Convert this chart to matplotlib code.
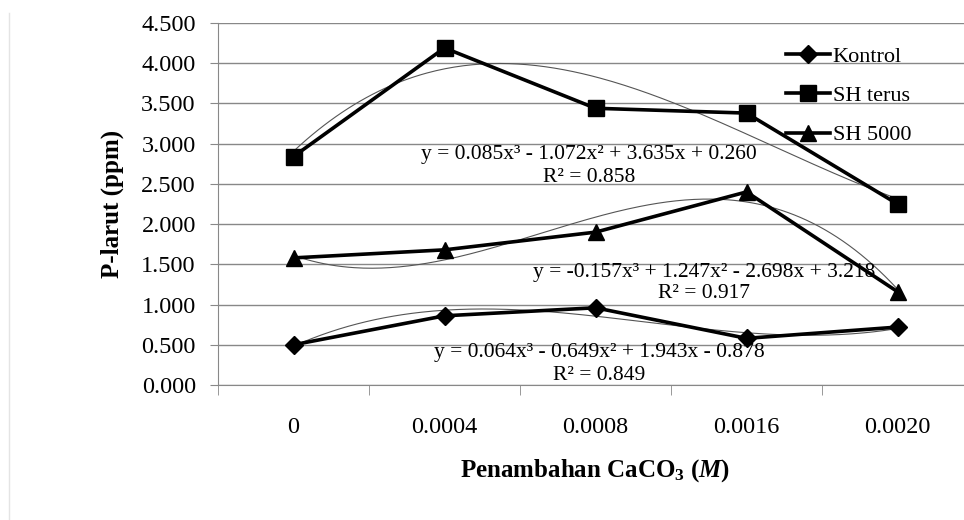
import numpy as np
import matplotlib
matplotlib.use("Agg")
import matplotlib.pyplot as plt
from matplotlib.lines import Line2D

plt.rcParams['font.family'] = ['Liberation Serif', 'DejaVu Serif']
plt.rcParams['mathtext.fontset'] = 'custom'
plt.rcParams['mathtext.rm'] = 'Liberation Serif'
plt.rcParams['mathtext.it'] = 'Liberation Serif:italic'
plt.rcParams['mathtext.bf'] = 'Liberation Serif:bold'
plt.rcParams['mathtext.bfit'] = 'Liberation Serif:italic:bold'

# data
categories = ['0', '0.0004', '0.0008', '0.0016', '0.0020']
kontrol = [0.50, 0.86, 0.96, 0.58, 0.72]
sh_terus = [2.84, 4.19, 3.44, 3.38, 2.25]
sh_5000 = [1.58, 1.68, 1.90, 2.40, 1.16]

eq_terus = ['y = 0.085x\u00b3 - 1.072x\u00b2 + 3.635x + 0.260', 'R\u00b2 = 0.858']
eq_5000 = ['y = -0.157x\u00b3 + 1.247x\u00b2 - 2.698x + 3.218', 'R\u00b2 = 0.917']
eq_kontrol = ['y = 0.064x\u00b3 - 0.649x\u00b2 + 1.943x - 0.878', 'R\u00b2 = 0.849']

fig = plt.figure(figsize=(9.64, 5.2), dpi=100)
ax = fig.add_axes([218/964, 1-385/520, 755/964, 362/520])

x = np.arange(len(categories))
xs = np.linspace(0, len(categories)-1, 200)

series = [
    ('Kontrol', kontrol, 'D', 9),
    ('SH terus', sh_terus, 's', 11.5),
    ('SH 5000', sh_5000, '^', 11.5),
]

for name, vals, mk, ms in series:
    # cubic trendline (excel style, x = 1..5)
    coef = np.polyfit(x + 1, vals, 3)
    ax.plot(xs, np.polyval(coef, xs + 1), color='#555555', lw=0.8, zorder=2)
    ax.plot(x, vals, color='black', lw=2.6, marker=mk, ms=ms, label=name, zorder=3)

ax.set_xlim(-0.5, len(categories)-0.5)
ax.set_ylim(0, 4.5)
ax.set_yticks(np.arange(0, 4.51, 0.5))
ax.set_yticklabels([f'{v:.3f}' for v in np.arange(0, 4.51, 0.5)])
ax.set_xticks(x)
ax.set_xticklabels(categories)
ax.set_xticks(np.arange(-0.5, len(categories)-0.5, 1), minor=True)
ax.tick_params(axis='x', which='major', length=0, pad=23, labelsize=17.5)
ax.tick_params(axis='x', which='minor', length=7, color='#888888')
ax.tick_params(axis='y', length=6, color='#888888', pad=10, labelsize=17.5)
ax.yaxis.grid(True, color='#888888', lw=1)
ax.set_axisbelow(True)
for s in ['top', 'right']:
    ax.spines[s].set_visible(False)
for s in ['left', 'bottom']:
    ax.spines[s].set_color('#888888')

ax.set_ylabel('P-larut (ppm)', fontsize=18, fontweight='bold', labelpad=12)
ax.set_xlabel(r'Penambahan CaCO$_{\mathbf{3}}$ ($\mathbfit{M}$)', fontsize=18,
              fontweight='bold', labelpad=14)

def put_eq(lines, cx, y1, y2):
    fig.text(cx/964, 1-y1/520, lines[0], ha='center', va='center', fontsize=15.5)
    fig.text(cx/964, 1-y2/520, lines[1], ha='center', va='center', fontsize=15.5)

put_eq(eq_terus, 589, 155, 178)
put_eq(eq_5000, 704, 273, 294)
put_eq(eq_kontrol, 599, 353, 375)

fig.legend(loc='upper left', bbox_to_anchor=(786/964, 1-46/520), frameon=False,
           fontsize=16, handlelength=2.0, handletextpad=0.1, labelspacing=0.85,
           borderaxespad=0, borderpad=0)

fig.add_artist(Line2D([9/964, 9/964], [0, 1-13/520], color='#e4e4e4', lw=1))

fig.savefig('out.png', dpi=100)
